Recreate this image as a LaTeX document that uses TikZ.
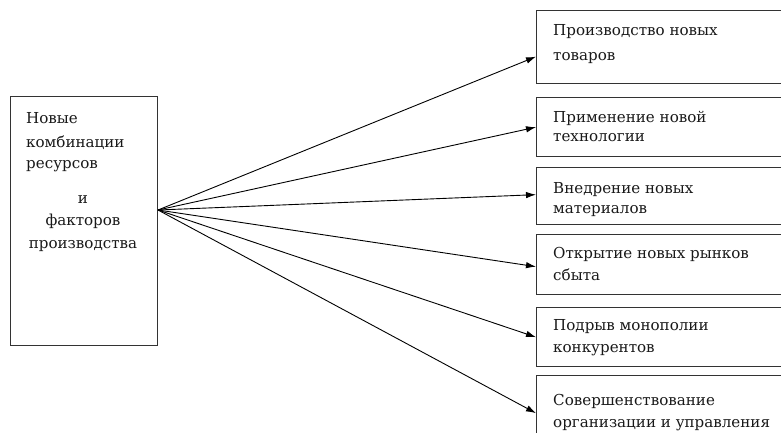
\documentclass[tikz,border=0pt]{standalone}
\usepackage{fontspec}
\setmainfont{DejaVu Serif}
\newfontfamily\serifru{DejaVu Serif}
\usetikzlibrary{arrows.meta}
\begin{document}
\begin{tikzpicture}[x=1pt,y=-1pt,
  box/.style={draw=black!80, line width=1.3pt, inner sep=0pt},
  conn/.style={draw=black, line width=0.9pt, -{Latex[length=10pt,width=6.5pt]}},
  txt/.style={anchor=base west, inner sep=0pt, text=black!90, font=\serifru\fontsize{15.1}{21}\selectfont},
  ctxt/.style={anchor=base, inner sep=0pt, text=black!90, font=\serifru\fontsize{15.1}{21}\selectfont}]
\useasboundingbox (0,0) rectangle (781,432);
\clip (0,0) rectangle (781,432);
% left box
\node[box, anchor=north west, minimum width=147pt, minimum height=249pt] (L) at (10,96) {};
\node[txt] (l1) at (26,123) {Новые};
\node[txt] (l2) at (26,147) {комбинации};
\node[txt] (l3) at (26,168) {ресурсов};
\node[ctxt] (l4) at (83,203) {и};
\node[ctxt] (l5) at (83,225) {факторов};
\node[ctxt] (l6) at (83,248) {производства};
% right boxes
\node[box, anchor=north west, minimum width=270pt, minimum height=73pt] (b1) at (536,10) {};
\node[box, anchor=north west, minimum width=270pt, minimum height=59pt] (b2) at (536,97) {};
\node[box, anchor=north west, minimum width=270pt, minimum height=57pt] (b3) at (536,167) {};
\node[box, anchor=north west, minimum width=270pt, minimum height=60pt] (b4) at (536,234) {};
\node[box, anchor=north west, minimum width=270pt, minimum height=59pt] (b5) at (536,307) {};
\node[box, anchor=north west, minimum width=270pt, minimum height=75pt] (b6) at (536,375) {};
% texts
\node[txt] (t1a) at (553,35) {Производство новых};
\node[txt] (t1b) at (553,60) {товаров};
\node[txt] (t2a) at (553,122) {Применение новой};
\node[txt] (t2b) at (553,141) {технологии};
\node[txt] (t3a) at (553,193) {Внедрение новых};
\node[txt] (t3b) at (553,213) {материалов};
\node[txt] (t4a) at (553,258) {Открытие новых рынков};
\node[txt] (t4b) at (553,280) {сбыта};
\node[txt] (t5a) at (553,330) {Подрыв монополии};
\node[txt] (t5b) at (553,352) {конкурентов};
\node[txt] (t6a) at (553,405) {Совершенствование};
\node[txt] (t6b) at (553,427) {организации и управления};
% connectors
\coordinate (hub) at (158,210);
\draw[conn] (hub) -- ([yshift=-9.5pt]b1.west);
\draw[conn] (hub) -- (b2.west);
\draw[conn] (hub) -- ([yshift=1.5pt]b3.west);
\draw[conn] (hub) -- ([yshift=-2pt]b4.west);
\draw[conn] (hub) -- (b5.west);
\draw[conn] (hub) -- (b6.west);
\end{tikzpicture}
\end{document}
